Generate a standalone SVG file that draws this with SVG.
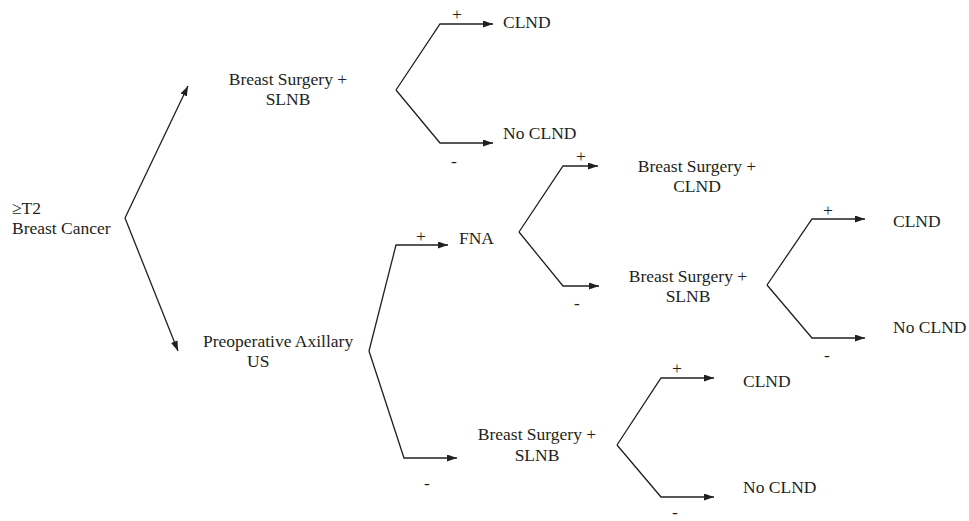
<svg xmlns="http://www.w3.org/2000/svg" width="969" height="521" viewBox="0 0 969 521">
<style>
text{font-family:"Liberation Serif","Times New Roman",serif;font-size:17.5px;fill:#231f20}
.m{text-anchor:middle}
.c{fill:none;stroke:#231f20;stroke-width:1.3;marker-end:url(#ah)}
</style>
<defs>
<marker id="ah" viewBox="0 0 10 7" refX="10" refY="3.5" markerWidth="10" markerHeight="7" markerUnits="userSpaceOnUse" orient="auto">
<path d="M0,0 L10,3.5 L0,7 z" fill="#231f20"/>
</marker>
</defs>
<rect width="969" height="521" fill="#fff"/>
<g id="connectors">
<polyline class="c" points="125,218 188,86"/>
<polyline class="c" points="125,218 178,351"/>
<polyline class="c" points="396,90 440,24 493,24"/>
<polyline class="c" points="396,90 440,143 493,143"/>
<polyline class="c" points="369,351 396,245 448,245"/>
<polyline class="c" points="369,351 404,458 457,458"/>
<polyline class="c" points="519,232 563,166 598,166"/>
<polyline class="c" points="519,232 563,286 599,286"/>
<polyline class="c" points="767,285 812,219 865,219"/>
<polyline class="c" points="767,285 812,338 865,338"/>
<polyline class="c" points="617,445 661,378 714,378"/>
<polyline class="c" points="617,445 661,497 714,497"/>
</g>
<g id="labels">
<text class="m" x="457" y="20">+</text>
<text class="m" x="454" y="167">-</text>
<text class="m" x="421" y="242">+</text>
<text class="m" x="427" y="489">-</text>
<text class="m" x="581" y="162">+</text>
<text class="m" x="577" y="309">-</text>
<text class="m" x="828" y="216">+</text>
<text class="m" x="827" y="361">-</text>
<text class="m" x="677" y="374">+</text>
<text class="m" x="675" y="518">-</text>
</g>
<g id="root"><text x="12" y="214">≥T2</text><text x="12" y="234">Breast Cancer</text></g>
<g id="bs-slnb-1"><text class="m" x="288" y="85">Breast Surgery +</text><text class="m" x="288" y="105">SLNB</text></g>
<g id="clnd-1"><text x="503" y="28">CLND</text></g>
<g id="noclnd-1"><text x="503" y="139">No CLND</text></g>
<g id="us"><text x="203" y="347">Preoperative Axillary</text><text x="247" y="367">US</text></g>
<g id="fna"><text x="459" y="244">FNA</text></g>
<g id="bs-clnd"><text class="m" x="697" y="172">Breast Surgery +</text><text class="m" x="697" y="192">CLND</text></g>
<g id="bs-slnb-2"><text class="m" x="688" y="282">Breast Surgery +</text><text class="m" x="688" y="302">SLNB</text></g>
<g id="clnd-2"><text x="893" y="227">CLND</text></g>
<g id="noclnd-2"><text x="893" y="333">No CLND</text></g>
<g id="bs-slnb-3"><text class="m" x="537" y="440">Breast Surgery +</text><text class="m" x="537" y="461">SLNB</text></g>
<g id="clnd-3"><text x="743" y="387">CLND</text></g>
<g id="noclnd-3"><text x="743" y="493">No CLND</text></g>
</svg>
